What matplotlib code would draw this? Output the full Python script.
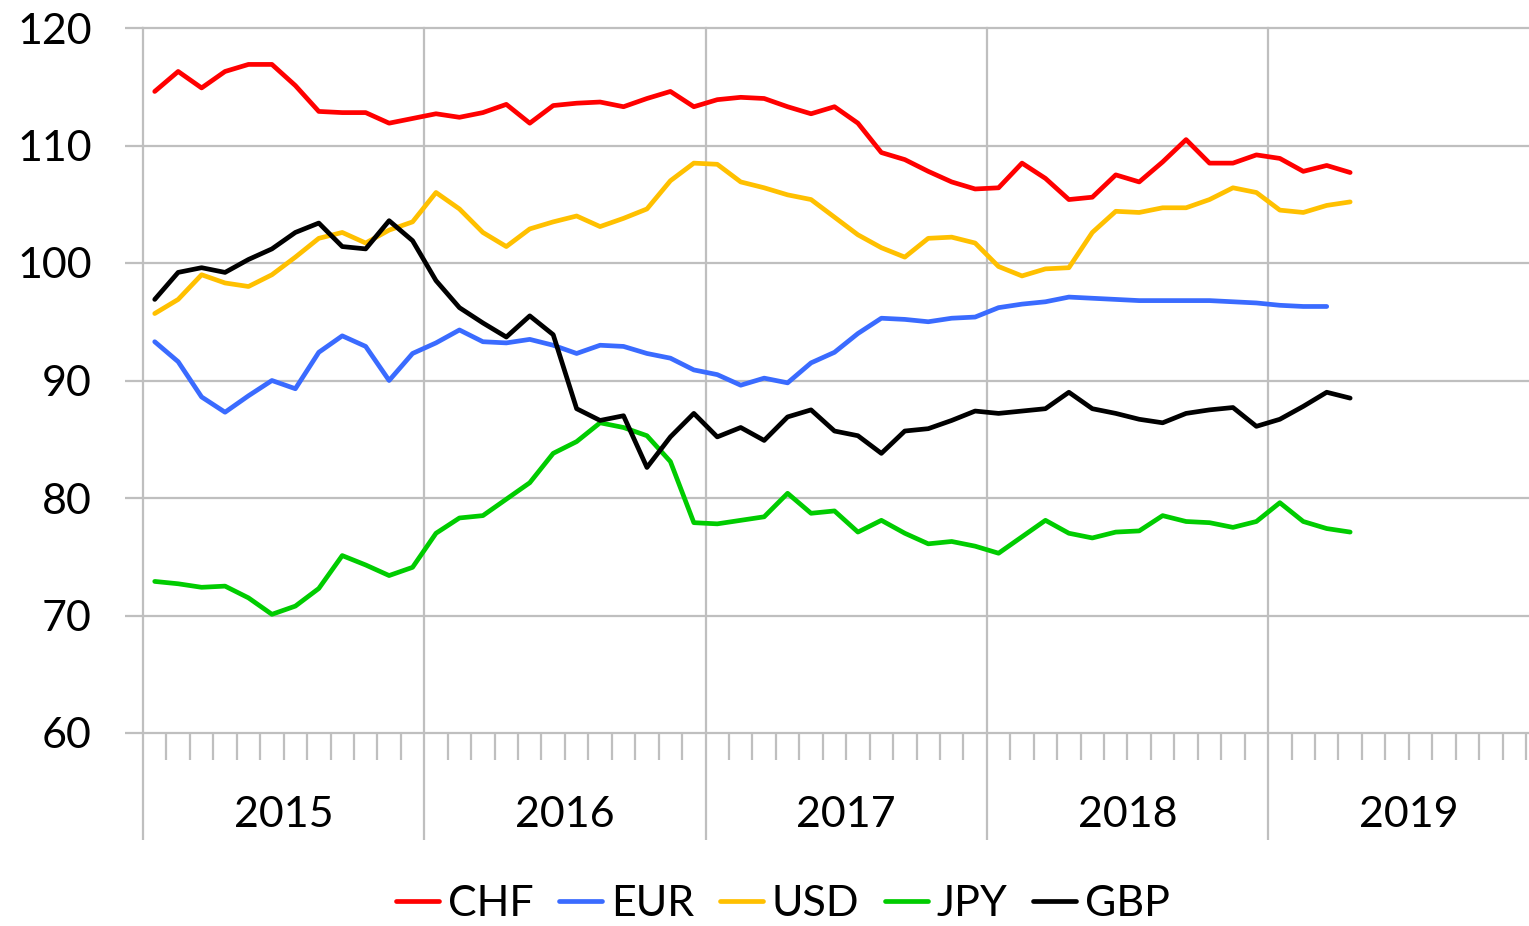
import matplotlib
matplotlib.use("Agg")
import matplotlib.pyplot as plt
import matplotlib.transforms as mtransforms
import numpy as np

# --- Данные (месячные значения, янв 2015 - апр 2019) ---
years = ["2015", "2016", "2017", "2018", "2019"]
n_months = 60  # ось рассчитана на 5 лет по 12 месяцев

chf = [114.6, 116.3, 114.9, 116.3, 116.9, 116.9, 115.1, 112.9, 112.8, 112.8, 111.9, 112.3,
       112.7, 112.4, 112.8, 113.5, 111.9, 113.4, 113.6, 113.7, 113.3, 114.0, 114.6, 113.3,
       113.9, 114.1, 114.0, 113.3, 112.7, 113.3, 111.9, 109.4, 108.8, 107.8, 106.9, 106.3,
       106.4, 108.5, 107.2, 105.4, 105.6, 107.5, 106.9, 108.6, 110.5, 108.5, 108.5, 109.2,
       108.9, 107.8, 108.3, 107.7]
eur = [93.3, 91.6, 88.6, 87.3, 88.7, 90.0, 89.3, 92.4, 93.8, 92.9, 90.0, 92.3,
       93.2, 94.3, 93.3, 93.2, 93.5, 93.0, 92.3, 93.0, 92.9, 92.3, 91.9, 90.9,
       90.5, 89.6, 90.2, 89.8, 91.5, 92.4, 94.0, 95.3, 95.2, 95.0, 95.3, 95.4,
       96.2, 96.5, 96.7, 97.1, 97.0, 96.9, 96.8, 96.8, 96.8, 96.8, 96.7, 96.6,
       96.4, 96.3, 96.3]
usd = [95.7, 96.9, 99.0, 98.3, 98.0, 99.0, 100.5, 102.1, 102.6, 101.7, 102.8, 103.5,
       106.0, 104.6, 102.6, 101.4, 102.9, 103.5, 104.0, 103.1, 103.8, 104.6, 107.0, 108.5,
       108.4, 106.9, 106.4, 105.8, 105.4, 103.9, 102.4, 101.3, 100.5, 102.1, 102.2, 101.7,
       99.7, 98.9, 99.5, 99.6, 102.6, 104.4, 104.3, 104.7, 104.7, 105.4, 106.4, 106.0,
       104.5, 104.3, 104.9, 105.2]
jpy = [72.9, 72.7, 72.4, 72.5, 71.5, 70.1, 70.8, 72.3, 75.1, 74.3, 73.4, 74.1,
       77.0, 78.3, 78.5, 79.9, 81.3, 83.8, 84.8, 86.4, 86.0, 85.3, 83.1, 77.9,
       77.8, 78.1, 78.4, 80.4, 78.7, 78.9, 77.1, 78.1, 77.0, 76.1, 76.3, 75.9,
       75.3, 76.7, 78.1, 77.0, 76.6, 77.1, 77.2, 78.5, 78.0, 77.9, 77.5, 78.0,
       79.6, 78.0, 77.4, 77.1]
gbp = [96.9, 99.2, 99.6, 99.2, 100.3, 101.2, 102.6, 103.4, 101.4, 101.2, 103.6, 101.9,
       98.5, 96.2, 94.9, 93.7, 95.5, 93.9, 87.6, 86.6, 87.0, 82.6, 85.2, 87.2,
       85.2, 86.0, 84.9, 86.9, 87.5, 85.7, 85.3, 83.8, 85.7, 85.9, 86.6, 87.4,
       87.2, 87.4, 87.6, 89.0, 87.6, 87.2, 86.7, 86.4, 87.2, 87.5, 87.7, 86.1,
       86.7, 87.8, 89.0, 88.5]

series = [("CHF", chf, "#FF0000"), ("EUR", eur, "#3A6BFF"), ("USD", usd, "#FFC000"),
          ("JPY", jpy, "#00CC00"), ("GBP", gbp, "#000000")]

GRID = "#BFBFBF"
plt.rcParams['font.family'] = ['Lato', 'DejaVu Sans']
FS = 31

W, H = 1529, 926
fig = plt.figure(figsize=(W / 100, H / 100), dpi=100)
# правый край оси выходит за картинку (как на обрезанном скриншоте)
left, right, top, bottom = 143, 143 + 60 * 23.44, 28, 733
ax = fig.add_axes([left / W, 1 - bottom / H, (right - left) / W, (bottom - top) / H])

for name, vals, col in series:
    x = np.arange(len(vals)) + 0.5
    ax.plot(x, vals, color=col, lw=3.4, label=name, solid_joinstyle="round",
            solid_capstyle="round", zorder=3)

ax.set_xlim(0, n_months)
ax.set_ylim(60, 120)
ax.set_yticks(range(60, 121, 10))
ax.tick_params(axis="y", length=13, width=1.6, color=GRID, pad=24, labelsize=FS)

ax.set_xticks(range(0, n_months + 1, 12))
ax.set_xticks(range(0, n_months + 1), minor=True)
ax.set_xticklabels([])
ax.tick_params(axis="x", which="major", length=77, width=1.6, color=GRID)
ax.tick_params(axis="x", which="minor", length=19.5, width=1.6, color=GRID)

ax.grid(True, which="major", color=GRID, lw=1.6, zorder=1)
for gl in ax.get_xgridlines() + ax.get_ygridlines():
    gl.set_clip_on(False)
for s in ax.spines.values():
    s.set_visible(False)

trans = mtransforms.blended_transform_factory(ax.transData, ax.transAxes)
for i, y in enumerate(years):
    ax.text(i * 12 + 6, (bottom - 815) / (bottom - top), y, transform=trans,
            ha="center", va="center", fontsize=FS)

fig.legend(loc="center", bbox_to_anchor=(783 / W, 1 - 904 / H), ncol=5, frameon=False,
           fontsize=FS, handlelength=1.0, handletextpad=0.2, columnspacing=0.6,
           borderaxespad=0, borderpad=0)

fig.savefig("out.png", dpi=100)
